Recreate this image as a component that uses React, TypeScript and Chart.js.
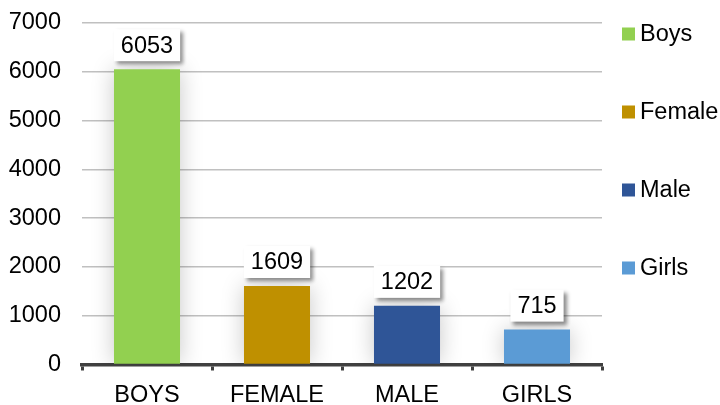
import React, { useEffect, useRef } from "react";
import { Chart, registerables } from "chart.js";

Chart.register(...registerables);

const categories = ["BOYS", "FEMALE", "MALE", "GIRLS"];
const values = [6053, 1609, 1202, 715];
const legendLabels = ["Boys", "Female", "Male", "Girls"];
const colors = ["#92D050", "#BF9000", "#2F5597", "#5B9BD5"];
const yMin = 0;
const yMax = 7000;
const yStep = 1000;

const FONT = "'Liberation Sans', Arial, Helvetica, sans-serif";
const FONT_SIZE = 23.5;

const glowPlugin = {
  id: "barGlow",
  beforeDatasetsDraw(chart: any) {
    const ctx = chart.ctx;
    ctx.save();
    ctx.shadowColor = "rgba(0,0,0,0.22)";
    ctx.shadowBlur = 22;
    ctx.shadowOffsetX = 0;
    ctx.shadowOffsetY = 0;
  },
  afterDatasetsDraw(chart: any) {
    chart.ctx.restore();
  },
};

const labelPlugin = {
  id: "valueBoxes",
  afterDatasetsDraw(chart: any) {
    const ctx = chart.ctx;
    const meta = chart.getDatasetMeta(0);
    ctx.save();
    ctx.font = `${FONT_SIZE}px ${FONT}`;
    meta.data.forEach((bar: any, i: number) => {
      const text = String(chart.data.datasets[0].data[i]);
      const tw = ctx.measureText(text).width;
      const w = tw + 14;
      const h = 32;
      const x = bar.x - w / 2;
      const y = bar.y - 8 - h;
      ctx.save();
      ctx.shadowColor = "rgba(0,0,0,0.45)";
      ctx.shadowBlur = 4;
      ctx.shadowOffsetX = 3;
      ctx.shadowOffsetY = 3;
      ctx.fillStyle = "#ffffff";
      ctx.fillRect(x, y, w, h);
      ctx.restore();
      ctx.fillStyle = "#000000";
      ctx.textAlign = "center";
      ctx.textBaseline = "middle";
      ctx.fillText(text, bar.x, y + h / 2 + 1);
    });
    ctx.restore();
  },
};

const legendPlugin = {
  id: "sideLegend",
  afterDraw(chart: any) {
    const ctx = chart.ctx;
    const area = chart.chartArea;
    const x0 = area.right + 20;
    const yStart = area.top + 11;
    const stepY = 78;
    ctx.save();
    ctx.font = `${FONT_SIZE}px ${FONT}`;
    ctx.textBaseline = "middle";
    ctx.textAlign = "left";
    legendLabels.forEach((lab, i) => {
      const cy = yStart + i * stepY;
      ctx.fillStyle = colors[i];
      ctx.fillRect(x0, cy - 6.5, 13, 13);
      ctx.fillStyle = "#000000";
      ctx.fillText(lab, x0 + 18, cy + 1);
    });
    ctx.restore();
  },
};

export default function App() {
  const canvasRef = useRef<HTMLCanvasElement | null>(null);

  useEffect(() => {
    if (!canvasRef.current) return;
    const chart = new Chart(canvasRef.current, {
      type: "bar",
      data: {
        labels: categories,
        datasets: [
          {
            data: values,
            backgroundColor: colors,
            borderWidth: 0,
            barPercentage: 0.508,
            categoryPercentage: 1,
          },
        ],
      },
      options: {
        responsive: true,
        maintainAspectRatio: false,
        animation: false,
        layout: { padding: { left: 8, right: 118, top: 23, bottom: 0 } },
        plugins: {
          legend: { display: false },
          tooltip: { enabled: false },
        },
        scales: {
          x: {
            offset: true,
            afterFit: (scale: any) => {
              scale.height = 40.5;
              scale.paddingLeft = 0;
              scale.paddingRight = 0;
            },
            grid: {
              display: true,
              offset: true,
              drawOnChartArea: false,
              drawTicks: true,
              tickLength: 6,
              tickColor: "#404040",
              tickWidth: 3,
            },
            border: { display: true, color: "#404040", width: 3.5 },
            ticks: {
              color: "#000000",
              font: { family: FONT, size: FONT_SIZE, lineHeight: 1 },
              padding: 13,
              maxRotation: 0,
            },
          },
          y: {
            min: yMin,
            max: yMax,
            afterFit: (scale: any) => {
              scale.width = 74;
              scale.paddingTop = 0;
              scale.paddingBottom = 0;
            },
            ticks: {
              stepSize: yStep,
              color: "#000000",
              font: { family: FONT, size: FONT_SIZE },
              padding: 21,
              callback: (v: any) => String(v),
            },
            grid: { color: "#c0c0c0", lineWidth: 1.5, drawTicks: false },
            border: { display: false },
          },
        },
      },
      plugins: [glowPlugin, labelPlugin, legendPlugin],
    });
    return () => chart.destroy();
  }, []);

  return (
    <div style={{ position: "absolute", left: 0, top: 0, width: 720, height: 405, background: "#ffffff" }}>
      <canvas ref={canvasRef} />
    </div>
  );
}
